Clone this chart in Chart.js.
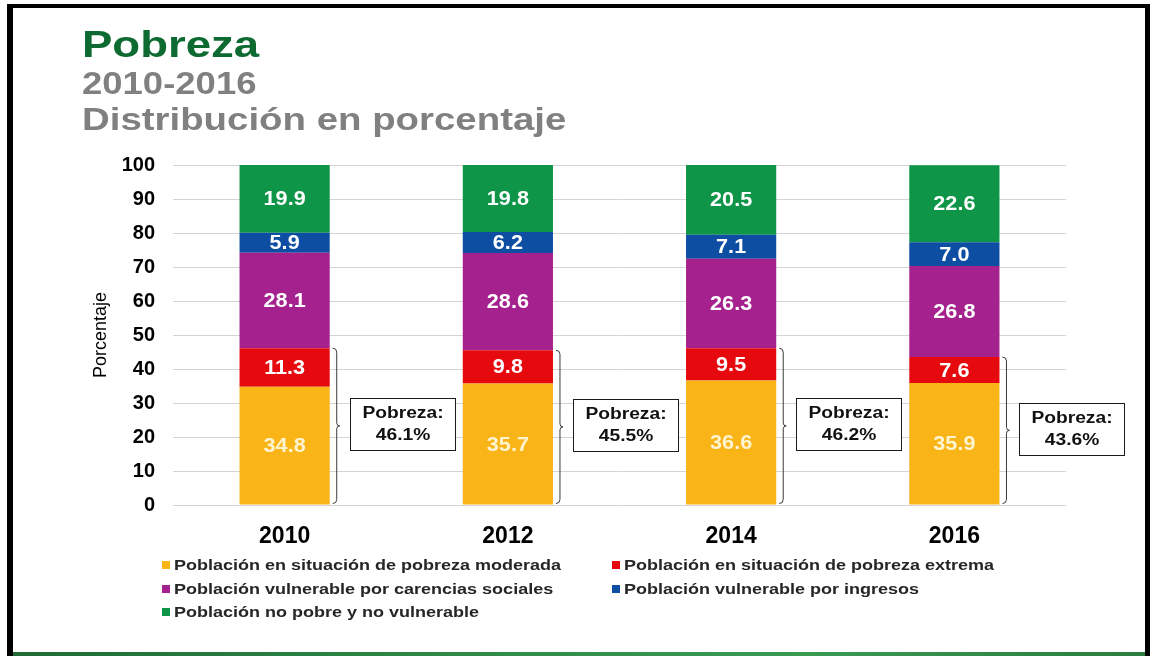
<!DOCTYPE html>
<html lang="es">
<head>
<meta charset="utf-8">
<title>Pobreza 2010-2016</title>
<script src="https://cdn.jsdelivr.net/npm/chart.js@4.4.1/dist/chart.umd.min.js"></script>
<style>
  body { margin: 0; background: #fff; width: 1150px; height: 656px; overflow: hidden; position: relative; font-family: "Liberation Sans", Arial, sans-serif; }
  #chart { position: absolute; left: 0; top: 0; }
  .frame-l { position: absolute; left: 7px; top: 4px; width: 6px; height: 652px; background: #000; }
  .frame-t { position: absolute; left: 7px; top: 4px; width: 1143px; height: 4px; background: #000; }
  .frame-r { position: absolute; left: 1145px; top: 4px; width: 5px; height: 652px; background: #000; }
  .frame-b { position: absolute; left: 13px; top: 652px; width: 1132px; height: 4px; background: linear-gradient(90deg, #1f6b35, #2f8a48 40%, #3a9a52 70%, #2a7d40); }
  .title { position: absolute; left: 82px; white-space: nowrap; font-weight: bold; transform-origin: left top; line-height: 1; }
  #t1 { top: 26px; font-size: 37px; color: #0d6a31; transform: scaleX(1.23); }
  #t2 { top: 67px; font-size: 32px; color: #808080; transform: scaleX(1.14); }
  #t3 { top: 103px; font-size: 32px; color: #808080; transform: scaleX(1.2); }
  .leg { position: absolute; height: 20px; white-space: nowrap; }
  .leg i { position: absolute; left: 0; top: 6px; width: 8px; height: 8px; }
  .leg span { position: absolute; left: 12px; top: 1px; font-size: 15px; font-weight: bold; color: #262626; transform: scaleX(1.2); transform-origin: left top; }
</style>
</head>
<body>
<canvas id="chart" width="1150" height="656"></canvas>
<div class="title" id="t1">Pobreza</div>
<div class="title" id="t2">2010-2016</div>
<div class="title" id="t3">Distribución en porcentaje</div>
<div id="legend"></div>
<div class="frame-l"></div><div class="frame-t"></div><div class="frame-r"></div><div class="frame-b"></div>
<script>
// ================= Data =================
const years = ['2010', '2012', '2014', '2016'];
const moderada = [34.8, 35.7, 36.6, 35.9];
const extrema = [11.3, 9.8, 9.5, 7.6];
const carencias = [28.1, 28.6, 26.3, 26.8];
const ingresos = [5.9, 6.2, 7.1, 7.0];
const noPobre = [19.9, 19.8, 20.5, 22.6];
const pobrezaTotal = ['46.1%', '45.5%', '46.2%', '43.6%'];
const yTicks = [0, 10, 20, 30, 40, 50, 60, 70, 80, 90, 100];

const FONT = '"Liberation Sans", Arial, sans-serif';

// text drawn a bit wider, like the original slide
function wideText(ctx, text, x, y, sx) {
  ctx.save();
  ctx.translate(x, y);
  ctx.scale(sx, 1);
  ctx.fillText(text, 0, 0);
  ctx.restore();
}

// ================= Plugins =================
const segmentLabels = {
  id: 'segmentLabels',
  afterDatasetsDraw(chart) {
    const ctx = chart.ctx;
    ctx.save();
    ctx.font = 'bold 20px ' + FONT;
    ctx.textAlign = 'center';
    ctx.textBaseline = 'middle';
    chart.data.datasets.forEach((ds, di) => {
      const meta = chart.getDatasetMeta(di);
      meta.data.forEach((bar, i) => {
        ctx.fillStyle = di === 0 ? '#fff4d0' : '#ffffff';
        wideText(ctx, ds.data[i].toFixed(1), bar.x, (bar.y + bar.base) / 2 + 1, 1.08);
      });
    });
    ctx.restore();
  }
};

const pobrezaBrackets = {
  id: 'pobrezaBrackets',
  afterDatasetsDraw(chart) {
    const ctx = chart.ctx;
    const low = chart.getDatasetMeta(0);
    const high = chart.getDatasetMeta(1);
    ctx.save();
    years.forEach((y, i) => {
      const x0 = low.data[i].x + low.data[i].width / 2;
      const top = high.data[i].y;
      const bottom = low.data[i].base - 1;
      const mid = (top + bottom) / 2;
      const xv = x0 + 7;

      ctx.strokeStyle = '#3a3a3a';
      ctx.lineWidth = 1;
      ctx.beginPath();
      ctx.moveTo(x0 + 3, top);
      ctx.quadraticCurveTo(xv, top, xv, top + 4);
      ctx.lineTo(xv, mid - 3);
      ctx.quadraticCurveTo(xv, mid, xv + 3, mid);
      ctx.quadraticCurveTo(xv, mid, xv, mid + 3);
      ctx.lineTo(xv, bottom - 4);
      ctx.quadraticCurveTo(xv, bottom, x0 + 3, bottom);
      ctx.stroke();

      const bw = 105, bh = 52;
      const bx = Math.round(x0 + 20) + 0.5;
      const by = Math.round(mid - 1.5 - bh / 2) + 0.5;
      ctx.fillStyle = '#fff';
      ctx.fillRect(bx, by, bw, bh);
      ctx.strokeStyle = '#1a1a1a';
      ctx.strokeRect(bx, by, bw, bh);

      ctx.fillStyle = '#111';
      ctx.font = 'bold 16px ' + FONT;
      ctx.textAlign = 'center';
      ctx.textBaseline = 'middle';
      wideText(ctx, 'Pobreza:', bx + bw / 2, by + bh / 2 - 11, 1.2);
      wideText(ctx, pobrezaTotal[i], bx + bw / 2, by + bh / 2 + 11, 1.2);
    });
    ctx.restore();
  }
};

// ================= Chart =================
const ctx = document.getElementById('chart').getContext('2d');
const chart = new Chart(ctx, {
  type: 'bar',
  data: {
    labels: years,
    datasets: [
      { label: 'Población en situación de pobreza moderada', data: moderada, backgroundColor: '#f9b418' },
      { label: 'Población en situación de pobreza extrema', data: extrema, backgroundColor: '#e60a0f' },
      { label: 'Población vulnerable por carencias sociales', data: carencias, backgroundColor: '#a5228e' },
      { label: 'Población vulnerable por ingresos', data: ingresos, backgroundColor: '#0d4ea3' },
      { label: 'Población no pobre y no vulnerable', data: noPobre, backgroundColor: '#0e9548' }
    ]
  },
  options: {
    responsive: false,
    animation: false,
    layout: { padding: { left: 90, right: 84, top: 165, bottom: 0 } },
    datasets: { bar: { barPercentage: 0.404, categoryPercentage: 1, borderWidth: 0 } },
    plugins: { legend: { display: false }, tooltip: { enabled: false } },
    scales: {
      x: {
        stacked: true,
        grid: { display: false },
        border: { display: false },
        ticks: { color: '#000', font: { family: FONT, size: 23, weight: 'bold' }, padding: 10 },
        afterFit: (s) => { s.height = 151; }
      },
      y: {
        stacked: true,
        min: 0,
        max: 100,
        afterBuildTicks: (s) => { s.ticks = yTicks.map(v => ({ value: v })); },
        grid: { color: '#d4d4d4', drawTicks: false },
        border: { display: false },
        ticks: { color: '#000', font: { family: FONT, size: 20, weight: 'bold' }, padding: 18 },
        title: { display: true, text: 'Porcentaje', color: '#000', font: { family: FONT, size: 18 }, padding: 0 },
        afterFit: (s) => { s.width = 83; }
      }
    }
  },
  plugins: [segmentLabels, pobrezaBrackets]
});

// ================= Legend =================
const legendPos = [[162, 555], [612, 555], [162, 579], [612, 579], [162, 602]];
document.getElementById('legend').innerHTML = chart.data.datasets.map((ds, i) =>
  `<div class="leg" style="left:${legendPos[i][0]}px;top:${legendPos[i][1]}px">
     <i style="background:${ds.backgroundColor}"></i><span>${ds.label}</span>
   </div>`
).join('');
</script>
</body>
</html>
